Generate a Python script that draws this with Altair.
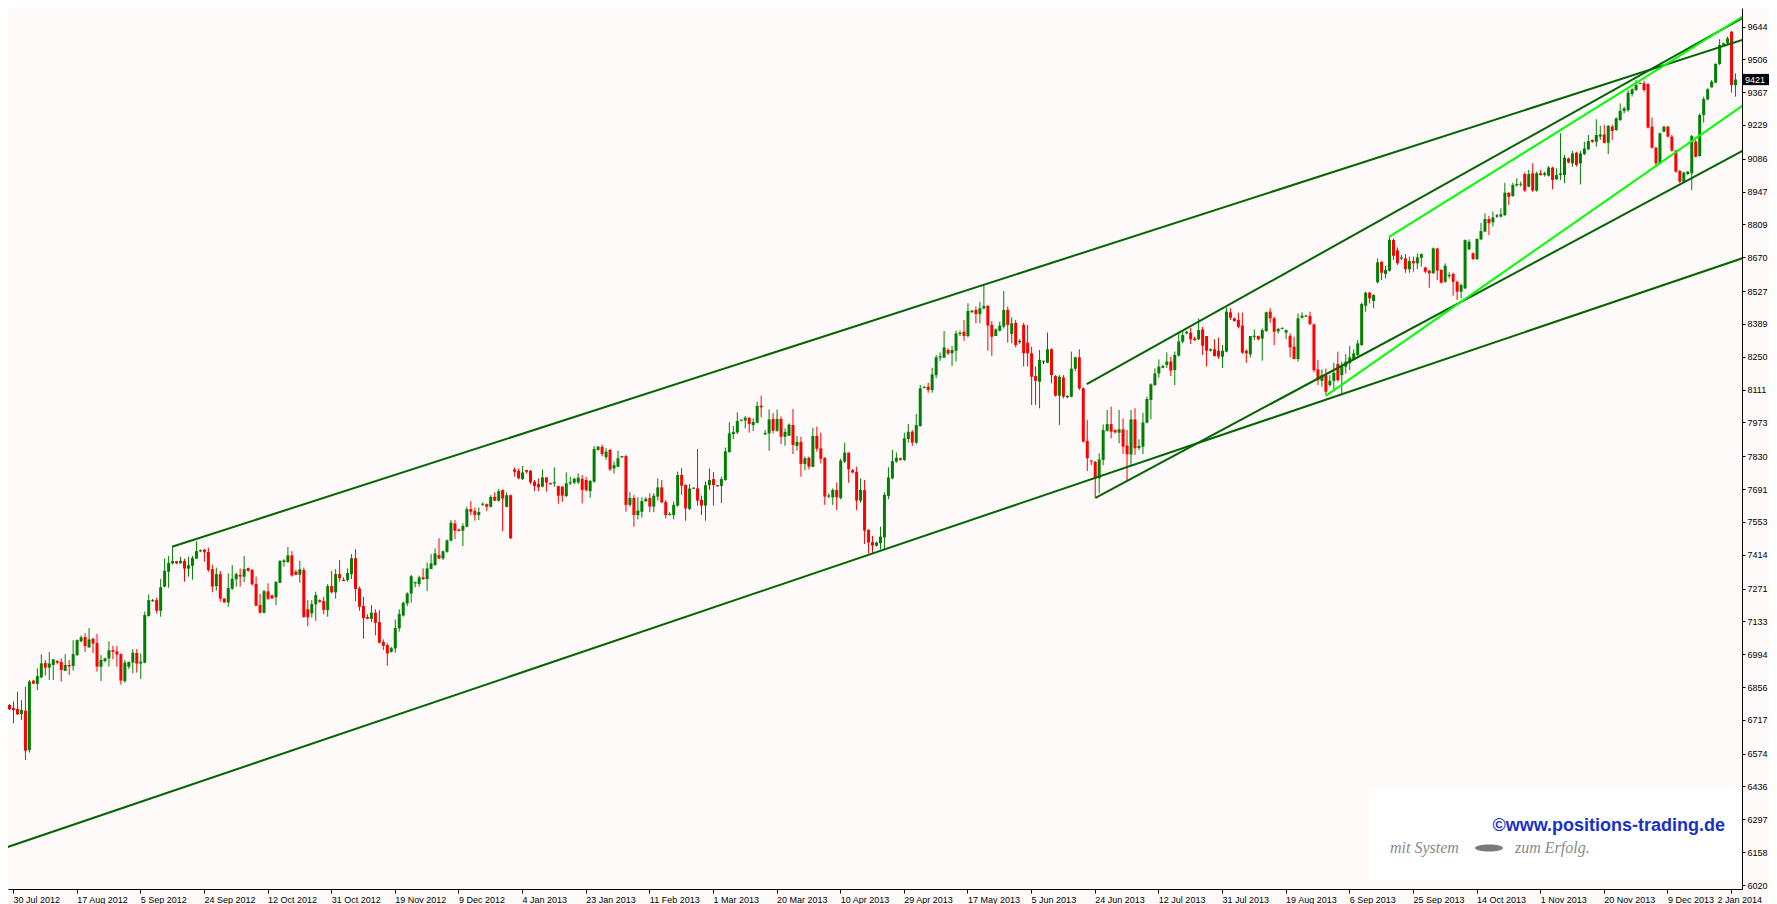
import altair as alt
import pandas as pd

# ---- daily candles (bar index 0..435) ----
opens = [
    6565, 6780, 6767, 6763, 6742, 6756, 6590, 6883, 6869, 6897,
    6957, 6938, 6949, 6966, 6962, 6924, 6949, 6945, 6991, 7049,
    7067, 7023, 7060, 7042, 6942, 6966, 6977, 7012, 7007, 6995,
    6881, 6942, 6959, 7000, 6955, 6959, 7156, 7218, 7223, 7178,
    7280, 7343, 7378, 7387, 7378, 7388, 7356, 7368, 7398, 7429,
    7436, 7426, 7354, 7282, 7333, 7230, 7213, 7271, 7311, 7329,
    7322, 7358, 7351, 7291, 7202, 7170, 7260, 7243, 7235, 7296,
    7384, 7384, 7412, 7343, 7330, 7350, 7184, 7167, 7205, 7223,
    7219, 7181, 7282, 7256, 7333, 7309, 7308, 7333, 7400, 7272,
    7198, 7151, 7144, 7170, 7130, 7046, 7033, 7005, 7019, 7104,
    7158, 7209, 7251, 7294, 7291, 7319, 7312, 7354, 7371, 7413,
    7399, 7427, 7474, 7547, 7520, 7516, 7533, 7607, 7599, 7582,
    7626, 7628, 7617, 7659, 7643, 7688, 7617, 7666, 7775, 7769,
    7734, 7772, 7769, 7723, 7713, 7702, 7741, 7717, 7716, 7704,
    7702, 7662, 7716, 7719, 7720, 7735, 7730, 7683, 7723, 7857,
    7870, 7826, 7857, 7779, 7786, 7826, 7831, 7625, 7654, 7582,
    7596, 7640, 7654, 7618, 7660, 7699, 7637, 7582, 7582, 7622,
    7751, 7709, 7608, 7694, 7695, 7646, 7622, 7708, 7734, 7708,
    7705, 7730, 7848, 7924, 7931, 7981, 7981, 7993, 7962, 7972,
    8044, 7923, 7927, 7988, 7938, 7988, 7913, 7917, 7962, 7874,
    7891, 7798, 7824, 7786, 7916, 7864, 7824, 7660, 7657, 7688,
    7654, 7808, 7846, 7772, 7764, 7643, 7688, 7519, 7468, 7453,
    7463, 7488, 7663, 7737, 7808, 7822, 7815, 7903, 7934, 7888,
    7958, 8119, 8124, 8110, 8173, 8247, 8247, 8279, 8265, 8276,
    8347, 8356, 8338, 8438, 8448, 8431, 8454, 8465, 8385, 8338,
    8361, 8378, 8448, 8347, 8394, 8312, 8385, 8310, 8265, 8169,
    8145, 8232, 8225, 8282, 8169, 8086, 8163, 8079, 8082, 8200,
    8248, 8117, 7895, 7812, 7807, 7737, 7815, 7938, 7966, 7941,
    7930, 7944, 7875, 7838, 7986, 7865, 7871, 7972, 8068, 8131,
    8180, 8204, 8216, 8230, 8194, 8255, 8314, 8349, 8352, 8328,
    8324, 8366, 8338, 8276, 8282, 8276, 8251, 8272, 8438, 8413,
    8406, 8382, 8275, 8261, 8335, 8338, 8327, 8359, 8441, 8413,
    8358, 8368, 8352, 8339, 8293, 8241, 8415, 8421, 8423, 8387,
    8197, 8149, 8173, 8131, 8149, 8220, 8173, 8209, 8225, 8237,
    8258, 8300, 8466, 8521, 8486, 8565, 8652, 8600, 8614, 8743,
    8700, 8665, 8666, 8620, 8655, 8645, 8668, 8627, 8614, 8603,
    8708, 8617, 8567, 8591, 8600, 8567, 8525, 8539, 8704, 8687,
    8663, 8746, 8779, 8832, 8818, 8845, 8842, 8849, 8943, 8929,
    8974, 8977, 9022, 8969, 9025, 8952, 9025, 9018, 9015, 9049,
    9000, 9018, 9018, 9088, 9067, 9112, 9067, 9106, 9126, 9166,
    9158, 9180, 9189, 9154, 9222, 9208, 9250, 9288, 9292, 9360,
    9377, 9402, 9405, 9402, 9222, 9133, 9067, 9201, 9222, 9180,
    9121, 9035, 8990, 9022, 9025, 9159, 9098, 9271, 9337, 9388,
    9408, 9487, 9567, 9574, 9623, 9398,
]
highs = [
    6815, 6784, 6795, 6836, 6801, 6857, 6886, 6886, 6935, 6994,
    6970, 7004, 6974, 6970, 6977, 6995, 6970, 7054, 7057, 7074,
    7083, 7105, 7063, 7080, 6991, 6980, 7049, 7030, 7030, 6998,
    6970, 6963, 7016, 7016, 6998, 7174, 7247, 7228, 7233, 7312,
    7399, 7409, 7448, 7388, 7406, 7398, 7406, 7409, 7472, 7437,
    7439, 7444, 7372, 7360, 7346, 7230, 7336, 7371, 7339, 7357,
    7409, 7361, 7353, 7322, 7249, 7266, 7294, 7246, 7304, 7392,
    7396, 7447, 7430, 7351, 7388, 7360, 7223, 7223, 7258, 7226,
    7237, 7291, 7346, 7354, 7392, 7319, 7357, 7417, 7438, 7280,
    7237, 7163, 7202, 7184, 7181, 7057, 7040, 7026, 7141, 7184,
    7216, 7256, 7329, 7301, 7326, 7357, 7382, 7417, 7441, 7484,
    7432, 7479, 7561, 7561, 7526, 7547, 7617, 7641, 7613, 7614,
    7636, 7631, 7666, 7678, 7692, 7690, 7678, 7669, 7783, 7779,
    7789, 7772, 7772, 7730, 7737, 7775, 7742, 7719, 7783, 7706,
    7704, 7762, 7744, 7740, 7758, 7751, 7744, 7730, 7873, 7873,
    7880, 7864, 7861, 7808, 7853, 7832, 7836, 7679, 7667, 7657,
    7657, 7657, 7674, 7674, 7737, 7730, 7646, 7594, 7639, 7765,
    7781, 7712, 7713, 7699, 7861, 7664, 7724, 7779, 7764, 7709,
    7744, 7867, 7974, 7958, 8016, 7986, 8000, 7995, 7990, 8061,
    8086, 7941, 8028, 8012, 8028, 7998, 7948, 7969, 8030, 7916,
    7913, 7829, 7829, 7951, 7955, 7930, 7826, 7674, 7695, 7719,
    7820, 7888, 7846, 7777, 7786, 7737, 7730, 7522, 7494, 7470,
    7533, 7678, 7784, 7857, 7846, 7824, 7930, 7967, 7941, 8009,
    8131, 8127, 8141, 8204, 8258, 8268, 8359, 8286, 8296, 8361,
    8361, 8406, 8476, 8448, 8462, 8482, 8558, 8469, 8401, 8370,
    8399, 8528, 8462, 8417, 8406, 8325, 8394, 8385, 8293, 8209,
    8279, 8232, 8353, 8286, 8173, 8173, 8173, 8088, 8272, 8251,
    8282, 8121, 7983, 7812, 7810, 7843, 7965, 8026, 8040, 7944,
    8026, 7990, 7941, 8026, 8033, 7902, 8014, 8082, 8138, 8201,
    8239, 8216, 8269, 8251, 8272, 8352, 8363, 8361, 8373, 8335,
    8413, 8377, 8338, 8286, 8324, 8331, 8300, 8458, 8455, 8415,
    8437, 8437, 8282, 8338, 8366, 8340, 8370, 8441, 8455, 8420,
    8373, 8375, 8366, 8349, 8335, 8434, 8438, 8427, 8441, 8391,
    8237, 8197, 8201, 8173, 8225, 8272, 8230, 8261, 8296, 8282,
    8321, 8479, 8525, 8525, 8515, 8666, 8652, 8634, 8757, 8750,
    8712, 8680, 8684, 8673, 8673, 8687, 8687, 8631, 8617, 8712,
    8708, 8620, 8645, 8607, 8606, 8572, 8560, 8746, 8746, 8691,
    8750, 8816, 8856, 8845, 8863, 8852, 8877, 8985, 8945, 8985,
    9004, 8990, 9028, 9039, 9067, 9032, 9039, 9032, 9056, 9053,
    9046, 9194, 9102, 9091, 9120, 9116, 9120, 9158, 9187, 9168,
    9253, 9225, 9229, 9229, 9229, 9261, 9320, 9306, 9377, 9384,
    9419, 9408, 9416, 9405, 9261, 9137, 9197, 9225, 9225, 9187,
    9123, 9039, 9032, 9035, 9187, 9166, 9278, 9349, 9384, 9419,
    9489, 9591, 9577, 9602, 9626, 9447,
]
lows = [
    6513, 6759, 6703, 6738, 6717, 6548, 6579, 6869, 6843, 6893,
    6904, 6886, 6886, 6952, 6879, 6924, 6907, 6925, 6987, 7045,
    7004, 7023, 6999, 6921, 6881, 6960, 6942, 6974, 6942, 6866,
    6874, 6932, 6914, 6917, 6890, 6956, 7153, 7215, 7166, 7153,
    7277, 7275, 7373, 7375, 7378, 7301, 7322, 7309, 7398, 7425,
    7385, 7343, 7256, 7263, 7216, 7212, 7195, 7266, 7280, 7280,
    7299, 7343, 7284, 7198, 7167, 7167, 7223, 7228, 7202, 7294,
    7364, 7380, 7322, 7329, 7296, 7148, 7113, 7150, 7136, 7212,
    7163, 7153, 7251, 7230, 7301, 7303, 7301, 7312, 7219, 7178,
    7060, 7142, 7130, 7074, 7040, 7012, 6946, 7001, 7001, 7090,
    7153, 7198, 7212, 7277, 7279, 7308, 7261, 7354, 7367, 7396,
    7392, 7423, 7471, 7481, 7515, 7451, 7530, 7582, 7558, 7561,
    7620, 7599, 7614, 7641, 7638, 7514, 7614, 7481, 7744, 7733,
    7730, 7758, 7712, 7683, 7683, 7699, 7681, 7712, 7702, 7630,
    7638, 7659, 7709, 7713, 7713, 7631, 7681, 7655, 7719, 7854,
    7830, 7815, 7768, 7758, 7784, 7823, 7596, 7617, 7533, 7564,
    7571, 7639, 7594, 7594, 7643, 7632, 7568, 7581, 7564, 7617,
    7667, 7558, 7603, 7691, 7622, 7582, 7558, 7688, 7622, 7702,
    7632, 7727, 7846, 7903, 7924, 7978, 7948, 7930, 7937, 7969,
    7995, 7920, 7854, 7927, 7934, 7882, 7875, 7917, 7840, 7854,
    7744, 7772, 7775, 7784, 7850, 7800, 7625, 7653, 7625, 7603,
    7648, 7801, 7719, 7758, 7603, 7634, 7460, 7420, 7420, 7449,
    7437, 7437, 7649, 7733, 7803, 7812, 7810, 7888, 7874, 7882,
    7955, 8117, 8099, 8099, 8159, 8233, 8244, 8258, 8211, 8230,
    8338, 8318, 8332, 8437, 8392, 8392, 8451, 8276, 8254, 8338,
    8356, 8370, 8310, 8307, 8290, 8305, 8209, 8209, 8047, 8047,
    8033, 8220, 8223, 8138, 8082, 7962, 8075, 8076, 8079, 8190,
    8110, 7888, 7768, 7793, 7653, 7674, 7793, 7934, 7906, 7927,
    7885, 7840, 7730, 7793, 7836, 7857, 7840, 7969, 7986, 8127,
    8162, 8202, 8204, 8169, 8131, 8251, 8307, 8345, 8304, 8317,
    8321, 8258, 8209, 8272, 8251, 8241, 8203, 8269, 8406, 8399,
    8370, 8262, 8225, 8248, 8321, 8320, 8234, 8356, 8394, 8300,
    8349, 8366, 8324, 8248, 8239, 8230, 8413, 8418, 8384, 8185,
    8131, 8124, 8089, 8124, 8107, 8145, 8089, 8180, 8194, 8237,
    8254, 8296, 8441, 8476, 8455, 8560, 8574, 8581, 8610, 8659,
    8638, 8659, 8605, 8605, 8610, 8620, 8631, 8603, 8542, 8600,
    8574, 8560, 8563, 8581, 8508, 8490, 8497, 8536, 8701, 8659,
    8659, 8743, 8776, 8764, 8800, 8838, 8838, 8845, 8891, 8926,
    8969, 8969, 8947, 8966, 8947, 8947, 9015, 9011, 9011, 8957,
    8997, 8997, 8983, 9067, 9053, 9053, 8978, 9102, 9123, 9154,
    9137, 9166, 9151, 9106, 9166, 9204, 9246, 9278, 9285, 9349,
    9373, 9401, 9370, 9215, 9130, 9056, 9064, 9198, 9177, 9116,
    9028, 8983, 8985, 9018, 8954, 9092, 9095, 9239, 9334, 9387,
    9405, 9482, 9564, 9567, 9365, 9349,
]
closes = [
    6773, 6762, 6759, 6741, 6759, 6587, 6879, 6870, 6902, 6956,
    6938, 6955, 6973, 6959, 6928, 6949, 6945, 6995, 7054, 7066,
    7029, 7057, 7040, 6942, 6970, 6977, 7011, 7005, 6993, 6883,
    6959, 6962, 7001, 6955, 6963, 7160, 7223, 7223, 7178, 7277,
    7347, 7380, 7388, 7378, 7389, 7356, 7370, 7401, 7430, 7434,
    7425, 7350, 7280, 7333, 7229, 7213, 7274, 7313, 7333, 7322,
    7354, 7347, 7290, 7199, 7170, 7260, 7229, 7230, 7299, 7388,
    7391, 7412, 7327, 7330, 7353, 7152, 7150, 7206, 7244, 7216,
    7181, 7282, 7256, 7333, 7315, 7305, 7337, 7400, 7270, 7195,
    7147, 7144, 7170, 7127, 7043, 7030, 6998, 7020, 7105, 7164,
    7212, 7251, 7324, 7298, 7319, 7312, 7357, 7378, 7420, 7399,
    7429, 7475, 7550, 7516, 7516, 7536, 7607, 7596, 7582, 7595,
    7628, 7617, 7659, 7643, 7683, 7652, 7666, 7484, 7765, 7737,
    7762, 7765, 7720, 7705, 7699, 7741, 7719, 7713, 7719, 7664,
    7664, 7716, 7721, 7735, 7740, 7688, 7688, 7726, 7861, 7871,
    7840, 7850, 7775, 7793, 7822, 7829, 7625, 7654, 7582, 7601,
    7641, 7651, 7618, 7664, 7699, 7636, 7582, 7587, 7625, 7751,
    7706, 7610, 7694, 7696, 7643, 7622, 7708, 7730, 7709, 7705,
    7734, 7851, 7927, 7933, 7979, 7983, 7993, 7967, 7975, 8043,
    8037, 7927, 7986, 7938, 7988, 7913, 7933, 7964, 7878, 7891,
    7798, 7822, 7786, 7916, 7862, 7820, 7660, 7665, 7688, 7657,
    7812, 7846, 7775, 7762, 7643, 7688, 7516, 7466, 7453, 7466,
    7491, 7667, 7741, 7810, 7824, 7815, 7906, 7934, 7888, 7962,
    8117, 8121, 8110, 8176, 8248, 8251, 8290, 8265, 8279, 8349,
    8352, 8338, 8444, 8445, 8431, 8455, 8465, 8382, 8335, 8366,
    8382, 8448, 8385, 8392, 8300, 8318, 8265, 8265, 8166, 8149,
    8237, 8232, 8282, 8173, 8086, 8166, 8082, 8085, 8200, 8248,
    8117, 7892, 7822, 7810, 7737, 7817, 7941, 7966, 7934, 7931,
    7944, 7871, 7838, 7986, 7864, 7874, 7973, 8072, 8134, 8180,
    8209, 8211, 8230, 8192, 8258, 8315, 8342, 8356, 8324, 8321,
    8363, 8297, 8276, 8282, 8254, 8251, 8276, 8441, 8415, 8401,
    8377, 8268, 8265, 8338, 8338, 8324, 8363, 8438, 8413, 8356,
    8368, 8370, 8363, 8290, 8241, 8413, 8424, 8423, 8389, 8194,
    8152, 8173, 8103, 8149, 8183, 8152, 8209, 8230, 8248, 8265,
    8307, 8473, 8521, 8497, 8511, 8649, 8605, 8617, 8743, 8677,
    8645, 8668, 8620, 8655, 8645, 8670, 8684, 8610, 8603, 8708,
    8614, 8563, 8635, 8596, 8567, 8525, 8553, 8743, 8736, 8663,
    8748, 8781, 8832, 8814, 8839, 8845, 8852, 8943, 8926, 8976,
    8978, 8979, 8952, 9022, 8952, 9025, 9018, 9025, 9049, 8997,
    9018, 9025, 9091, 9071, 9109, 9060, 9109, 9130, 9161, 9158,
    9187, 9189, 9154, 9225, 9204, 9257, 9289, 9299, 9365, 9380,
    9398, 9405, 9377, 9218, 9133, 9067, 9194, 9222, 9180, 9121,
    9032, 8990, 9028, 9032, 9182, 9095, 9271, 9339, 9380, 9412,
    9487, 9567, 9574, 9595, 9398, 9421,
]

date_labels = [
    "30 Jul 2012", "17 Aug 2012", "5 Sep 2012", "24 Sep 2012", "12 Oct 2012",
    "31 Oct 2012", "19 Nov 2012", "9 Dec 2012", "4 Jan 2013", "23 Jan 2013",
    "11 Feb 2013", "1 Mar 2013", "20 Mar 2013", "10 Apr 2013", "29 Apr 2013",
    "17 May 2013", "5 Jun 2013", "24 Jun 2013", "12 Jul 2013", "31 Jul 2013",
    "19 Aug 2013", "6 Sep 2013", "25 Sep 2013", "14 Oct 2013", "1 Nov 2013",
    "20 Nov 2013", "9 Dec 2013", "2 Jan 2014",
]
y_ticks = [6020, 6158, 6297, 6436, 6574, 6717, 6856, 6994, 7133, 7271, 7414,
           7553, 7691, 7830, 7973, 8111, 8250, 8389, 8527, 8670, 8809, 8947,
           9086, 9229, 9367, 9506, 9644]

# trend lines: start bar, end bar, start price, end price
dark_x1 = [42, 0, 274.2, 272]
dark_x2 = [437.5, 437.5, 437.5, 437.5]
dark_y1 = [7448, 6177, 7655, 8135]
dark_y2 = [9592, 8670, 9125, 9686]
lime_x1 = [348, 332.1]
lime_x2 = [437.5, 437.5]
lime_y1 = [8757, 8085]
lime_y2 = [9693, 9318]

site = "\u00a9www.positions-trading.de"

# ---------------------------------------------------------------
bars = pd.DataFrame({"k": list(range(len(closes))), "o": opens,
                     "hi": highs, "lo": lows, "c": closes})

PLOT_W, PLOT_H = 1734, 881
xscale = alt.Scale(domain=[2, 435.5], nice=False, zero=False)
yscale = alt.Scale(domain=[6003.2, 9723], nice=False, zero=False)

tick_idx = [2 + 16 * i for i in range(len(date_labels))]
label_js = "[" + ",".join("'%s'" % s for s in date_labels) + "][round((datum.value-2)/16)]"
last_tick = tick_idx[-1]

FONT = "Liberation Sans"
xaxis = alt.Axis(values=tick_idx, labelExpr=label_js, title=None, grid=False,
                 orient="bottom", labelAlign="left", labelBaseline="top",
                 labelPadding=2, tickSize=4,
                 labelOffset={"condition": {"test": "datum.value == %d" % last_tick,
                                            "value": -14}, "value": 0},
                 labelOverlap=False,
                 labelFlush=False, labelBound=False, domainColor="black",
                 tickColor="black", labelColor="black", labelFont=FONT,
                 labelFontSize=9)
yaxis = alt.Axis(values=y_ticks, title=None, grid=False, orient="right",
                 tickSize=3, labelPadding=2, labelFlush=False, labelOverlap=False,
                 labelBound=False, domainColor="black", tickColor="black",
                 labelColor="black", labelFont=FONT, labelFontSize=9, format="d")

X = alt.X("k:Q", scale=xscale, axis=xaxis)

dir_expr = "datum.c > datum.o ? 'up' : (datum.c < datum.o ? 'down' : 'flat')"
color = alt.Color("dir:N", scale=alt.Scale(domain=["up", "down", "flat"],
                                           range=["#008000", "#FF0000", "#000000"]),
                  legend=None)

base = alt.Chart(bars).transform_calculate(dir=dir_expr)

wicks = base.mark_rule(strokeWidth=1, xOffset=0.5, clip=True).encode(
    x=X, y=alt.Y("lo:Q", scale=yscale, axis=yaxis), y2="hi:Q", color=color)
bodies = base.mark_bar(size=3, xOffset=0.5, clip=True).encode(
    x=X, y=alt.Y("o:Q", scale=yscale, axis=yaxis), y2="c:Q", color=color)
flats = base.transform_filter("abs(datum.c - datum.o) < 5").mark_tick(
    orient="horizontal", size=3, thickness=1, xOffset=0.5, clip=True).encode(
    x=X, y=alt.Y("c:Q", scale=yscale, axis=yaxis), color=color)

dark_df = pd.DataFrame({"k": dark_x1, "k2": dark_x2, "lo": dark_y1, "hi": dark_y2})
lime_df = pd.DataFrame({"k": lime_x1, "k2": lime_x2, "lo": lime_y1, "hi": lime_y2})
dark_lines = alt.Chart(dark_df).mark_rule(strokeWidth=2, color="#006400", clip=True).encode(
    x=X, x2="k2:Q", y=alt.Y("lo:Q", scale=yscale, axis=yaxis), y2="hi:Q")
lime_lines = alt.Chart(lime_df).mark_rule(strokeWidth=2, color="#00FF00", clip=True).encode(
    x=X, x2="k2:Q", y=alt.Y("lo:Q", scale=yscale, axis=yaxis), y2="hi:Q")

last = pd.DataFrame({"lo": [closes[-1]], "t": [str(closes[-1])]})
price_box = alt.Chart(last).mark_point(shape="M-1,-0.4H1V0.4H-1Z", filled=True,
                                       size=784, color="black", opacity=1).encode(
    x=alt.value(PLOT_W + 14), y=alt.Y("lo:Q", scale=yscale, axis=yaxis))
price_txt = alt.Chart(last).mark_text(color="white", align="left", baseline="middle",
                                      font=FONT, fontSize=9).encode(
    x=alt.value(PLOT_W + 3), y=alt.Y("lo:Q", scale=yscale, axis=yaxis), text="t:N")

one = pd.DataFrame({"t": [site]})
wm_box = alt.Chart(one).mark_rect(color="white").encode(
    x=alt.value(1361), x2=alt.value(1734), y=alt.value(780), y2=alt.value(872))
wm_text = alt.Chart(one).mark_text(align="right", baseline="alphabetic", font=FONT,
                                   fontSize=18, fontWeight="bold", color="#1832c8").encode(
    x=alt.value(1717), y=alt.value(823), text="t:N")
slogan_l = alt.Chart(pd.DataFrame({"t": ["mit System"]})).mark_text(
    align="left", baseline="alphabetic", font="Liberation Serif", fontStyle="italic",
    fontSize=16, color="#8a8a8a").encode(x=alt.value(1382), y=alt.value(845), text="t:N")
slogan_r = alt.Chart(pd.DataFrame({"t": ["zum Erfolg."]})).mark_text(
    align="left", baseline="alphabetic", font="Liberation Serif", fontStyle="italic",
    fontSize=16, color="#8a8a8a").encode(x=alt.value(1507), y=alt.value(845), text="t:N")
ellipse = alt.Chart(pd.DataFrame({"t": ["o"]})).mark_point(
    shape="M-1,0 A1,0.25 0 1,1 1,0 A1,0.25 0 1,1 -1,0 Z", filled=True, size=784,
    color="#7a7a7a", opacity=1).encode(x=alt.value(1481), y=alt.value(840))

chart = alt.layer(
    wm_box, wicks, bodies, flats, dark_lines, lime_lines, price_box, price_txt,
    wm_text, slogan_l, ellipse, slogan_r,
).properties(
    width=PLOT_W, height=PLOT_H,
    autosize=alt.AutoSizeParams(type="none"),
    padding={"left": 0, "top": 0, "right": 27, "bottom": 15},
).configure(background="#FFFAFA").configure_view(stroke=None, fill="#FFFAFA")

chart.save("out.html", embed_options={"renderer": "svg", "actions": False})
